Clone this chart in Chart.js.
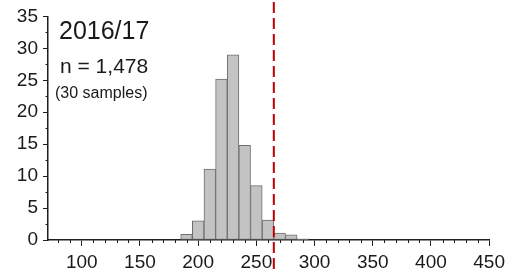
<!DOCTYPE html>
<html>
<head>
<meta charset="utf-8">
<script src="https://cdn.jsdelivr.net/npm/chart.js@4.4.1/dist/chart.umd.min.js"></script>
<style>
  html, body { margin: 0; padding: 0; background: #fff; }
  #wrap { width: 510px; height: 273px; }
</style>
</head>
<body>
<div id="wrap"><canvas id="histChart" width="510" height="273"></canvas></div>
<script>
// Histogram data (bin centres, bin width 10)
const binCenters = [190, 200, 210, 220, 230, 240, 250, 260, 270, 280, 290];
const percentages = [0.9, 3.0, 11.1, 25.2, 29.0, 14.8, 8.5, 3.1, 1.1, 0.8, 0.2];
const cutoffValue = 265;

// Axis ranges / ticks
const xMin = 71, xMax = 450, xMajorStep = 50, xMinorStep = 10;
const yMin = 0, yMax = 35, yMajorStep = 5, yMinorStep = 2.5;

// Annotation texts
const titleText = "2016/17";
const countText = "n = 1,478";
const samplesText = "(30 samples)";

const FONT = "'Liberation Sans', Arial, sans-serif";
const INK = "#1e1e1e";

// minor ticks + red cutoff line + corner texts
const extrasPlugin = {
  id: "extras",
  afterDraw(chart) {
    const { ctx, scales: { x, y }, chartArea } = chart;
    ctx.save();

    // minor ticks
    ctx.strokeStyle = INK;
    ctx.lineWidth = 1;
    ctx.beginPath();
    for (let v = Math.ceil(xMin / xMinorStep) * xMinorStep; v <= xMax; v += xMinorStep) {
      if (v % xMajorStep === 0) continue;
      const px = Math.round(x.getPixelForValue(v)) + 0.5;
      ctx.moveTo(px, chartArea.bottom);
      ctx.lineTo(px, chartArea.bottom + 3);
    }
    for (let v = yMin; v <= yMax; v += yMinorStep) {
      if (v % yMajorStep === 0) continue;
      const py = Math.round(y.getPixelForValue(v)) + 0.5;
      ctx.moveTo(chartArea.left, py);
      ctx.lineTo(chartArea.left - 2.5, py);
    }
    ctx.stroke();

    // dashed cutoff line, full canvas height
    const cx = x.getPixelForValue(cutoffValue);
    ctx.strokeStyle = "#c00000";
    ctx.lineWidth = 2;
    ctx.setLineDash([11, 5]);
    ctx.beginPath();
    ctx.moveTo(cx, 2);
    ctx.lineTo(cx, chart.height);
    ctx.stroke();
    ctx.setLineDash([]);

    // texts
    ctx.fillStyle = "#1a1a1a";
    ctx.textAlign = "left";
    ctx.textBaseline = "alphabetic";
    ctx.font = "25px " + FONT;
    ctx.fillText(titleText, 59, 39);
    ctx.font = "21px " + FONT;
    ctx.fillText(countText, 60, 73);
    ctx.font = "16px " + FONT;
    ctx.fillText(samplesText, 55, 98);

    ctx.restore();
  }
};

new Chart(document.getElementById("histChart"), {
  type: "bar",
  data: {
    datasets: [{
      data: binCenters.map((c, i) => ({ x: c, y: percentages[i] })),
      backgroundColor: "#c3c3c3",
      borderColor: "#6e6e6e",
      borderWidth: 1,
      borderSkipped: false,
      barPercentage: 1,
      categoryPercentage: 1
    }]
  },
  options: {
    responsive: false,
    animation: false,
    events: [],
    layout: { padding: { left: 0, right: 18, top: 15, bottom: 0 } },
    plugins: { legend: { display: false }, tooltip: { enabled: false } },
    scales: {
      x: {
        type: "linear",
        min: xMin,
        max: xMax,
        offset: false,
        afterBuildTicks(scale) {
          const t = [];
          for (let v = 100; v <= xMax; v += xMajorStep) t.push({ value: v });
          scale.ticks = t;
        },
        afterFit(scale) { scale.height = 33; },
        border: { display: true, color: INK, width: 1.5 },
        grid: { offset: false, drawOnChartArea: false, drawTicks: true, tickLength: 6, color: INK, tickColor: INK },
        ticks: { color: "#1a1a1a", font: { family: FONT, size: 19 }, padding: 5, maxRotation: 0, autoSkip: false }
      },
      y: {
        min: yMin,
        max: yMax,
        afterFit(scale) { scale.width = 48; },
        border: { display: true, color: INK, width: 1.5 },
        grid: { drawOnChartArea: false, drawTicks: true, tickLength: 5, color: INK, tickColor: INK },
        ticks: { stepSize: yMajorStep, color: "#1a1a1a", font: { family: FONT, size: 19 }, padding: 5 }
      }
    }
  },
  plugins: [extrasPlugin]
});
</script>
</body>
</html>
